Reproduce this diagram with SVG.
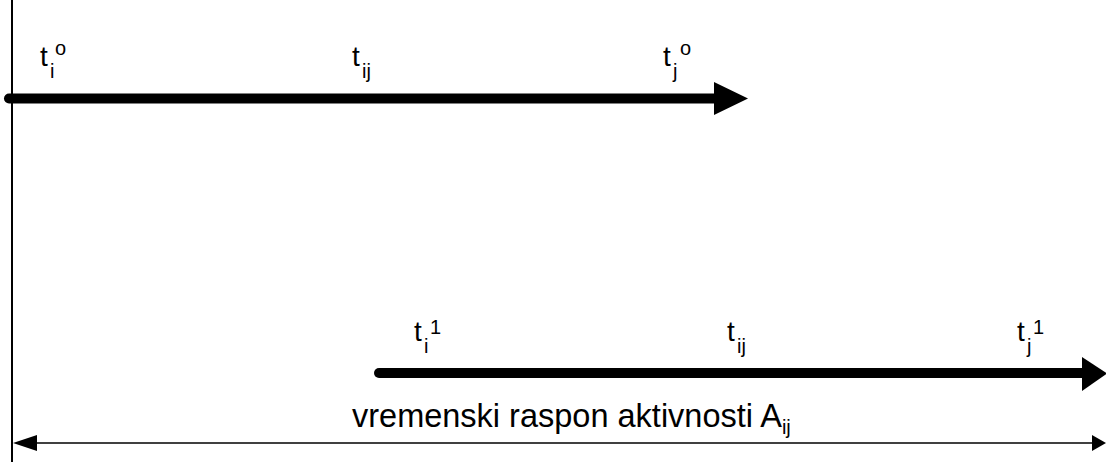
<svg xmlns="http://www.w3.org/2000/svg" width="1106" height="462" viewBox="0 0 1106 462">
<style>
text{font-family:"Liberation Sans",Arial,sans-serif;fill:#000}
.t{font-size:28px}
.sub{font-size:20px}
.sup{font-size:20px}
.thick{stroke:#000;stroke-width:10;fill:none;stroke-linecap:round}
.thin{stroke:#000;stroke-width:2;fill:none}
</style>
<rect width="1106" height="462" fill="#fff"/>
<g id="connectors">
<line class="thin" x1="12" y1="0" x2="12" y2="462"/>
<line class="thick" x1="9" y1="98.5" x2="716" y2="98.5"/>
<polygon points="714,82 748,98.5 714,115" fill="#000"/>
<line class="thick" x1="379" y1="373" x2="1084" y2="373"/>
<polygon points="1082,357 1107,373.5 1082,391" fill="#000"/>
<line x1="30" y1="443" x2="1094" y2="443" stroke="#000" stroke-width="1.5"/>
<polygon points="13,443 37,435 37,451" fill="#000"/>
<polygon points="1106,443 1092,435 1092,451" fill="#000"/>
</g>
<g id="label-ti0"><text class="t" x="40" y="66">t</text><text class="sub" x="50" y="78">i</text><text class="sup" x="55" y="55">o</text></g>
<g id="label-tij0"><text class="t" x="352" y="66">t</text><text class="sub" x="362" y="78">ij</text></g>
<g id="label-tj0"><text class="t" x="663" y="66">t</text><text class="sub" x="673" y="78">j</text><text class="sup" x="680" y="55">o</text></g>
<g id="label-ti1"><text class="t" x="414" y="341">t</text><text class="sub" x="424" y="353">i</text><text class="sup" x="430" y="334">1</text></g>
<g id="label-tij1"><text class="t" x="727" y="341">t</text><text class="sub" x="737" y="353">ij</text></g>
<g id="label-tj1"><text class="t" x="1017" y="341">t</text><text class="sub" x="1027" y="353">j</text><text class="sup" x="1033" y="334">1</text></g>
<g id="label-span"><text x="352" y="427" font-size="32.5">vremenski raspon aktivnosti A<tspan class="sub" dy="7">ij</tspan></text></g>
</svg>
